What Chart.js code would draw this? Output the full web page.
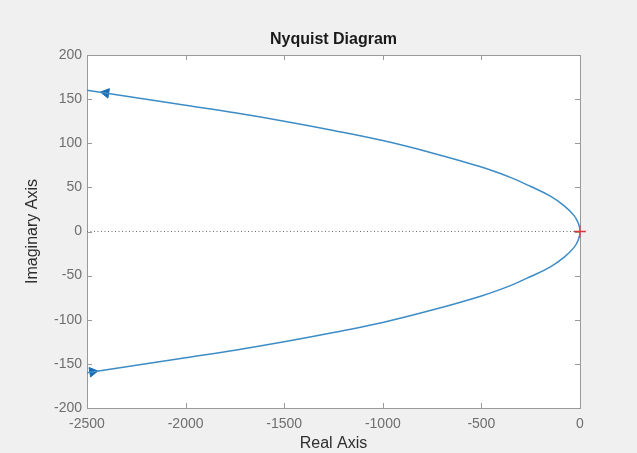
<!DOCTYPE html>
<html>
<head>
<meta charset="utf-8">
<script src="https://cdn.jsdelivr.net/npm/chart.js@4/dist/chart.umd.min.js"></script>
<style>
  html, body { margin: 0; padding: 0; background: #f0f0f0; }
</style>
</head>
<body>
<canvas id="nyq" width="637" height="453"></canvas>
<script>
// values, traced from the top left, through the origin, to the bottom left
var realAxis = [-2500, -2250, -2000, -1750, -1500, -1250, -1000, -750, -500, -350, -250, -150, -80, -30, -8, 0,
                -8, -30, -80, -150, -250, -350, -500, -750, -1000, -1250, -1500, -1750, -2000, -2250, -2500];
var imagAxis = [160, 151.5, 143, 134.5, 125, 114.5, 103, 89, 73, 61, 51, 40, 29, 18, 9, 0,
                -9, -18, -29, -40, -51, -61, -73, -89, -103, -114.5, -125, -134.5, -143, -151.5, -160];
var arrowUp = {x: -2404, y: 157};
var arrowDown = {x: -2472, y: -159};
var critical = {x: -1, y: 0};
var xTickVals = [-2500, -2000, -1500, -1000, -500, 0];
var yTickVals = [-200, -150, -100, -50, 0, 50, 100, 150, 200];

var toPts = (xs, ys) => xs.map((x, i) => ({x: x, y: ys[i]}));

var lineBlue = '#3d8cc6';
var boxGray = '#9a9a9a';

// white plot area, box and inward tick marks like the matlab axes
var axesBox = {
  id: 'axesBox',
  beforeDatasetsDraw: (chart) => {
    var a = chart.chartArea, ctx = chart.ctx;
    var xs = chart.scales.x, ys = chart.scales.y;
    ctx.save();
    ctx.fillStyle = '#ffffff';
    ctx.fillRect(a.left, a.top, a.right - a.left, a.bottom - a.top);
    ctx.strokeStyle = boxGray;
    ctx.lineWidth = 1;
    ctx.beginPath();
    xs.ticks.forEach((t) => {
      var px = Math.round(xs.getPixelForValue(t.value)) + 0.5;
      ctx.moveTo(px, a.bottom); ctx.lineTo(px, a.bottom - 5);
      ctx.moveTo(px, a.top); ctx.lineTo(px, a.top + 5);
    });
    ys.ticks.forEach((t) => {
      var py = Math.round(ys.getPixelForValue(t.value)) + 0.5;
      ctx.moveTo(a.left, py); ctx.lineTo(a.left + 5, py);
      ctx.moveTo(a.right, py); ctx.lineTo(a.right - 5, py);
    });
    ctx.stroke();
    ctx.strokeRect(Math.round(a.left) + 0.5, Math.round(a.top) + 0.5,
      Math.round(a.right - a.left), Math.round(a.bottom - a.top));
    ctx.restore();
  }
};

var ctx = document.getElementById('nyq').getContext('2d');
var chart = new Chart(ctx, {
  type: 'scatter',
  data: {
    datasets: [
      {
        // dotted zero line
        data: [{x: xTickVals[0], y: 0}, {x: xTickVals[xTickVals.length - 1], y: 0}],
        showLine: true, borderColor: '#6a6a6a', borderWidth: 1, borderDash: [1, 2.5],
        pointRadius: 0
      },
      {
        data: toPts(realAxis, imagAxis),
        showLine: true, borderColor: lineBlue, borderWidth: 1.5,
        tension: 0.4, pointRadius: 0
      },
      {
        data: [arrowUp], clip: false,
        pointStyle: 'triangle', rotation: 279, pointRadius: 5.5,
        pointBackgroundColor: '#1a6db3', pointBorderColor: '#1a6db3', pointBorderWidth: 1
      },
      {
        data: [arrowDown], clip: false,
        pointStyle: 'triangle', rotation: 81, pointRadius: 5.5,
        pointBackgroundColor: '#1a6db3', pointBorderColor: '#1a6db3', pointBorderWidth: 1
      },
      {
        data: [critical], clip: false,
        pointStyle: 'cross', pointRadius: 6,
        pointBorderColor: '#e0303a', pointBorderWidth: 1.3
      }
    ]
  },
  options: {
    responsive: false,
    animation: false,
    devicePixelRatio: 1,
    layout: {padding: {left: 0, right: 57, top: 0, bottom: 0}},
    plugins: {
      legend: {display: false},
      tooltip: {enabled: false},
      title: {
        display: true, text: 'Nyquist Diagram', fullSize: false,
        color: '#1a1a1a',
        font: {family: 'Liberation Sans', size: 16, weight: 'bold'},
        padding: {top: 30.4, bottom: 5.4}
      }
    },
    scales: {
      x: {
        type: 'linear', min: -2500, max: 0,
        grid: {display: false, drawTicks: false},
        border: {display: false},
        afterBuildTicks: (s) => { s.ticks = xTickVals.map((v) => ({value: v})); },
        afterFit: (s) => { s.height = 45; },
        ticks: {
          padding: 8, color: '#6e6e6e', maxRotation: 0,
          font: {family: 'Liberation Sans', size: 14},
          callback: (v) => String(v)
        },
        title: {
          display: true, text: 'Real Axis', color: '#2e2e2e',
          font: {family: 'Liberation Sans', size: 16},
          padding: {top: 0, bottom: 0}
        }
      },
      y: {
        type: 'linear', min: -200, max: 200,
        grid: {display: false, drawTicks: false},
        border: {display: false},
        afterBuildTicks: (s) => { s.ticks = yTickVals.map((v) => ({value: v})); },
        afterFit: (s) => { s.width = 87; },
        ticks: {
          padding: 5, color: '#6e6e6e',
          font: {family: 'Liberation Sans', size: 14},
          callback: (v) => String(v)
        },
        title: {
          display: true, text: 'Imaginary Axis', color: '#2e2e2e',
          font: {family: 'Liberation Sans', size: 16},
          padding: {top: 23, bottom: 0}
        }
      }
    }
  },
  plugins: [axesBox]
});
</script>
</body>
</html>
